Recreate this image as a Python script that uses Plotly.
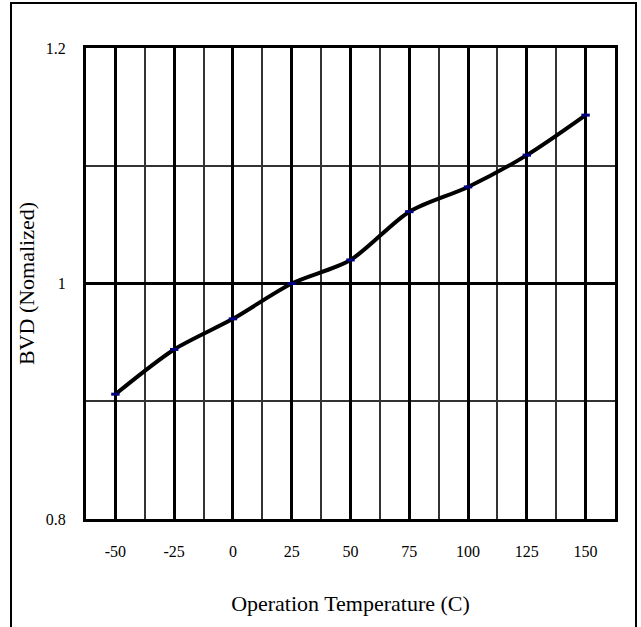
import plotly.graph_objects as go

temps = [-50, -25, 0, 25, 50, 75, 100, 125, 150]
bvd = [0.906, 0.944, 0.970, 1.000, 1.020, 1.061, 1.082, 1.109, 1.143]
x_ticks = [-50, -25, 0, 25, 50, 75, 100, 125, 150]
x_ticktext = ["-50", "-25", "0", "25", "50", "75", "100", "125", "150"]
y_ticks = [0.8, 1.0, 1.2]
y_ticktext = ["0.8", "1", "1.2"]

fig = go.Figure()
fig.add_trace(go.Scatter(x=temps, y=bvd, mode="lines",
                         line=dict(color="black", width=4, shape="spline", smoothing=0.8),
                         showlegend=False, hoverinfo="skip"))
fig.add_trace(go.Scatter(x=temps, y=bvd, mode="markers",
                         marker=dict(symbol="line-ew", size=6,
                                     line=dict(color="#000080", width=3)),
                         showlegend=False))

font = "Liberation Serif"
fig.update_layout(
    width=641, height=627,
    margin=dict(l=86, r=26, t=48, b=108),
    paper_bgcolor="white", plot_bgcolor="white",
    font=dict(family=font, color="black", size=16),
    xaxis=dict(range=[-62.5, 162.5], tickvals=x_ticks, ticktext=x_ticktext,
               ticks="", ticklabelstandoff=16,
               showgrid=True, gridcolor="black", gridwidth=3,
               minor=dict(dtick=12.5, tick0=-62.5, showgrid=True, gridcolor="#333333", gridwidth=2),
               showline=True, linecolor="black", linewidth=3, mirror=True,
               zeroline=False,
               title=dict(text="Operation Temperature (C)", font=dict(size=22), standoff=37)),
    yaxis=dict(range=[0.8, 1.2], tickvals=y_ticks, ticktext=y_ticktext,
               ticks="", ticklabelstandoff=14,
               showgrid=True, gridcolor="black", gridwidth=3,
               minor=dict(dtick=0.1, tick0=0.8, showgrid=True, gridcolor="#333333", gridwidth=2),
               showline=True, linecolor="black", linewidth=3, mirror=True,
               zeroline=False,
               title=dict(text="BVD (Nomalized)", font=dict(size=22), standoff=6)),
)

pw, ph = 641 - 86 - 26, 627 - 48 - 108
fig.add_shape(type="rect", xref="paper", yref="paper",
              x0=(11 - 86) / pw, x1=(636 - 86) / pw,
              y0=-(640 - 519) / ph, y1=1 + (48 - 3) / ph,
              line=dict(color="black", width=2), layer="below")

fig.write_html("out.html")
